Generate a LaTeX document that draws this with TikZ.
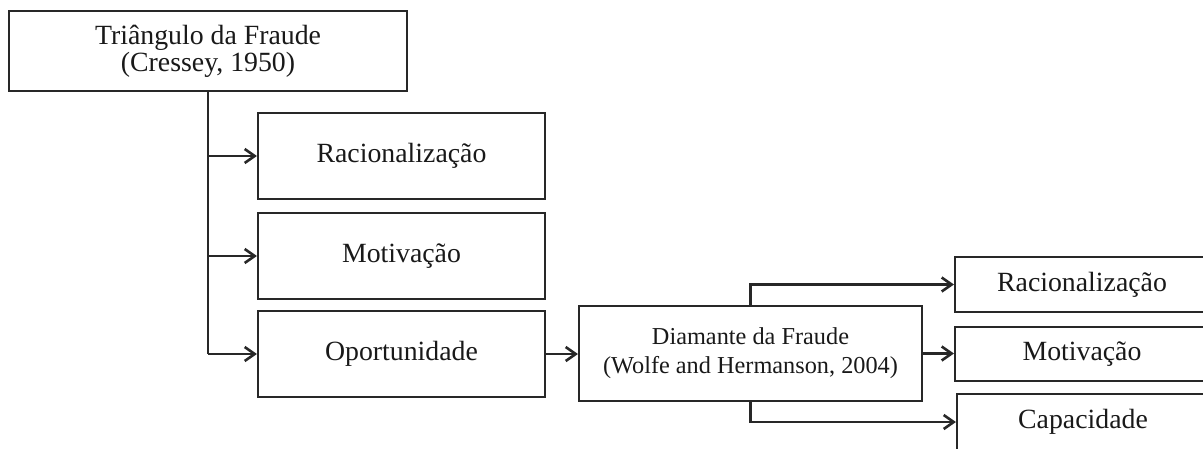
\documentclass[tikz,border=0pt]{standalone}
\usepackage{fontspec}
\setmainfont{Liberation Serif}
\usetikzlibrary{arrows.meta}
\definecolor{lineC}{RGB}{40,40,40}
\definecolor{textC}{RGB}{25,25,25}
\begin{document}
\begin{tikzpicture}[x=1pt,y=-1pt,
  box/.style={draw=lineC, line width=2.1pt, align=center, inner sep=0pt, text=textC},
  big/.style={font=\fontsize{27.8}{27}\selectfont},
  small/.style={font=\fontsize{24.3}{29}\selectfont},
  wire/.style={draw=lineC, line width=2.1pt},
  link/.style={wire, -{Straight Barb[length=10pt,width=14pt,line width=2.6pt]}}]
\useasboundingbox (0,0) rectangle (1203,448);
\clip (0,0) rectangle (1203,448);

% Cressey's fraud triangle
\node[box, big, minimum width=398pt, minimum height=80pt] (tri) at (208,51)
  {Triângulo da Fraude\\(Cressey, 1950)};
\node[box, big, minimum width=287pt, minimum height=86pt] (rac) at (401.5,156) {Racionalização};
\node[box, big, minimum width=287pt, minimum height=86pt] (mot) at (401.5,256) {Motivação};
\node[box, big, minimum width=287pt, minimum height=86pt] (opo) at (401.5,354) {Oportunidade};

% Wolfe and Hermanson's fraud diamond
\node[box, small, minimum width=343pt, minimum height=95pt] (dia) at (750.5,353.5)
  {Diamante da Fraude\\(Wolfe and Hermanson, 2004)};
\node[box, big, minimum width=254pt, minimum height=55pt] (rac2) at (1082,284.5) {Racionalização};
\node[box, big, minimum width=254pt, minimum height=54pt] (mot2) at (1082,354) {Motivação};
\node[box, big, minimum width=252pt, minimum height=56pt] (cap) at (1083,422) {Capacidade};

% trunk from the triangle to its three elements
\draw[wire] (tri.south) -- (tri.south |- opo.west);
\draw[link] (tri.south |- rac.west) -- (rac.west);
\draw[link] (tri.south |- mot.west) -- (mot.west);
\draw[link] (tri.south |- opo.west) -- (opo.west);

% opportunity leads to the diamond
\draw[link] (opo.east) -- (opo.east -| dia.west);

% diamond branches
\draw[link] (dia.north) |- (rac2.west);
\draw[link] (dia.east) -- (dia.east -| mot2.west);
\draw[link] (dia.south) |- (cap.west);
\end{tikzpicture}
\end{document}
